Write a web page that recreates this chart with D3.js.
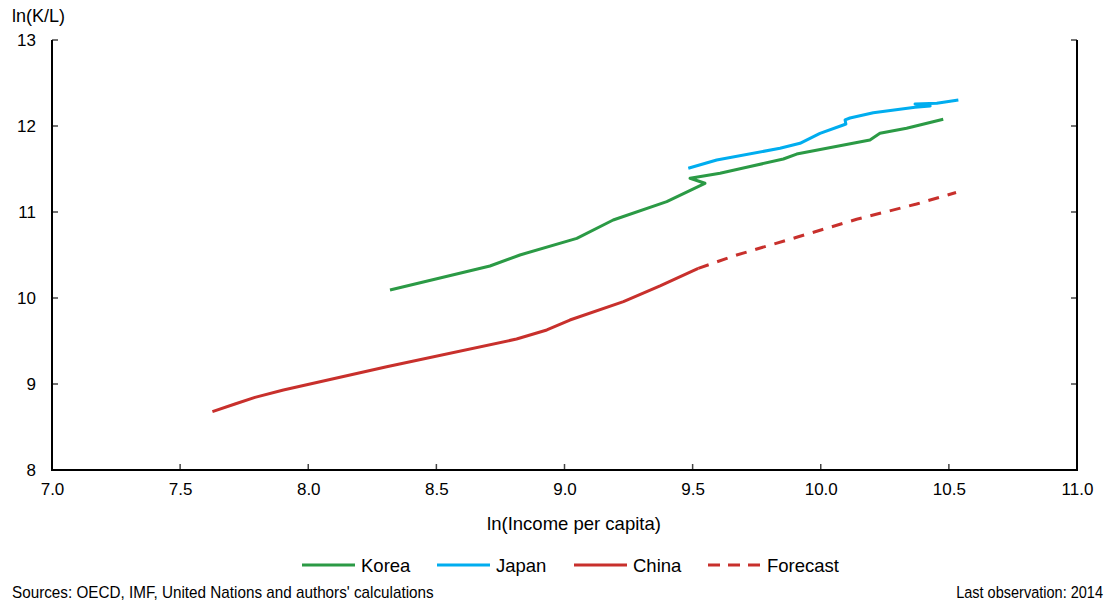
<!DOCTYPE html>
<html><head><meta charset="utf-8">
<script src="https://cdn.jsdelivr.net/npm/d3@7"></script>
<style>
body{margin:0;background:#fff;}
text{font-family:"Liberation Sans",Arial,sans-serif;fill:#000;}
</style></head>
<body><svg id="c" width="1116" height="604"></svg>
<script>
const xTicks = [7.0,7.5,8.0,8.5,9.0,9.5,10.0,10.5,11.0];
const yTicks = [8,9,10,11,12,13];

const koreaX = [8.319,8.709,8.826,9.048,9.190,9.399,9.548,9.490,9.607,9.711,9.854,9.906,10.192,10.231,10.335,10.478];
const koreaY = [10.093,10.372,10.500,10.694,10.907,11.120,11.334,11.392,11.450,11.520,11.616,11.674,11.837,11.915,11.973,12.078];

const japanX = [9.483,9.594,9.841,9.919,9.997,10.088,10.098,10.095,10.114,10.205,10.368,10.427,10.368,10.453,10.537];
const japanY = [11.508,11.605,11.741,11.799,11.915,12.012,12.023,12.070,12.093,12.155,12.217,12.233,12.256,12.264,12.302];

const chinaX = [7.626,7.714,7.792,7.903,8.306,8.813,8.931,9.021,9.230,9.373,9.522];
const chinaY = [8.678,8.767,8.845,8.930,9.201,9.523,9.628,9.744,9.957,10.140,10.345];

const forecastX = [9.522,9.672,9.906,10.140,10.374,10.528];
const forecastY = [10.345,10.500,10.706,10.915,11.093,11.227];

const series = [
  {name:"Korea", xs:koreaX, ys:koreaY, color:"#2b9a45", dash:null, legDash:null},
  {name:"Japan", xs:japanX, ys:japanY, color:"#00adef", dash:null, legDash:null},
  {name:"China", xs:chinaX, ys:chinaY, color:"#c8302c", dash:null, legDash:null},
  {name:"Forecast", xs:forecastX, ys:forecastY, color:"#c8302c", dash:"11,9", legDash:"12,8"}
];

const svg = d3.select("#c");
const L=52, R=1077, T=40, B=470;
const x = d3.scaleLinear().domain([7,11]).range([L,R]);
const y = d3.scaleLinear().domain([8,13]).range([B,T]);

// bottom axis
const gx = svg.append("g").attr("transform",`translate(0,${B})`)
  .call(d3.axisBottom(x).tickValues(xTicks).tickFormat(d3.format(".1f")).tickSize(0).tickPadding(13));
gx.select(".domain").remove();
gx.selectAll("text").attr("font-size",17).attr("font-family","Liberation Sans, Arial, sans-serif");
svg.append("g").selectAll("line").data(xTicks.slice(1,-1)).join("line")
  .attr("x1",d=>x(d)).attr("x2",d=>x(d)).attr("y1",B).attr("y2",B-6)
  .attr("stroke","#444").attr("stroke-width",1.5);

// left axis
const gy = svg.append("g").attr("transform",`translate(${L},0)`)
  .call(d3.axisLeft(y).tickValues(yTicks).tickFormat(d3.format("d")).tickSize(0).tickPadding(16));
gy.select(".domain").remove();
gy.selectAll("text").attr("font-size",17).attr("font-family","Liberation Sans, Arial, sans-serif");
svg.append("g").selectAll("line").data(yTicks.slice(1)).join("line")
  .attr("x1",L).attr("x2",L+6).attr("y1",d=>y(d)).attr("y2",d=>y(d))
  .attr("stroke","#444").attr("stroke-width",1.5);
svg.append("g").selectAll("line").data(yTicks.slice(1)).join("line")
  .attr("x1",R).attr("x2",R-6).attr("y1",d=>y(d)).attr("y2",d=>y(d))
  .attr("stroke","#444").attr("stroke-width",1.5);

// frame lines
svg.append("path").attr("d",`M${L},${T}V${B}H${R}V${T}`).attr("fill","none")
  .attr("stroke","#000").attr("stroke-width",2);

// series
const line = d3.line().x(d=>x(d[0])).y(d=>y(d[1])).curve(d3.curveLinear);
series.forEach(s=>{
  const pts = s.xs.map((v,i)=>[v,s.ys[i]]);
  svg.append("path").datum(pts).attr("d",line).attr("fill","none")
    .attr("stroke",s.color).attr("stroke-width",3).attr("stroke-linejoin","round")
    .attr("stroke-dasharray",s.dash);
});

// titles
svg.append("text").attr("x",12).attr("y",22).attr("font-size",18).text("ln(K/L)");
svg.append("text").attr("x",574).attr("y",530).attr("text-anchor","middle").attr("font-size",18.5).text("ln(Income per capita)");

// legend
const legPos = [302,437,574,708];
series.forEach((s,i)=>{
  const g = svg.append("g").attr("transform",`translate(${legPos[i]},565)`);
  g.append("line").attr("x1",0).attr("x2",53).attr("y1",0).attr("y2",0)
    .attr("stroke",s.color).attr("stroke-width",3).attr("stroke-dasharray",s.legDash);
  g.append("text").attr("x",59).attr("y",6.5).attr("font-size",18.5).text(s.name);
});

// footers (condensed via horizontal scale)
function condensed(txt, x0, anchor, target){
  const t = svg.append("text").attr("font-size",17).attr("text-anchor",anchor).text(txt);
  const w = t.node().getComputedTextLength();
  const k = Math.min(1, target / w);
  t.attr("transform",`translate(${x0},597.5) scale(${k},1)`);
}
condensed("Sources: OECD, IMF, United Nations and authors' calculations", 12, "start", 422);
condensed("Last observation: 2014", 1103, "end", 147);
</script></body></html>
